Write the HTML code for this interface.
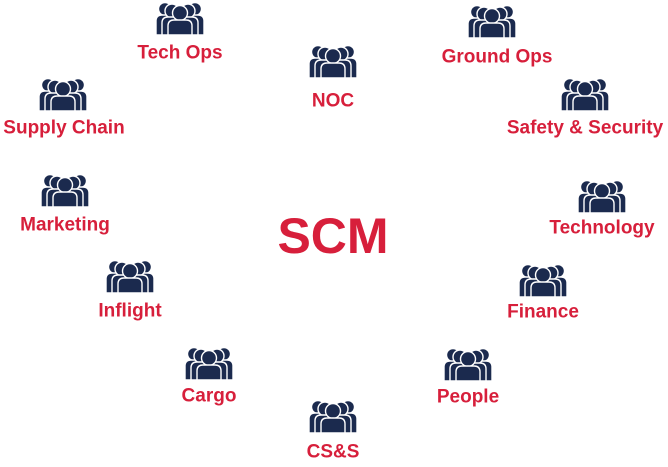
<!DOCTYPE html>
<html><head><meta charset="utf-8"><style>
html,body{margin:0;padding:0;background:#fff;}
#wrap{position:relative;width:668px;height:467px;overflow:hidden;font-family:"Liberation Sans",sans-serif;}
.lbl{position:absolute;color:#d71f3b;font-weight:bold;font-size:19px;white-space:nowrap;transform:translate(-50%,-50%);line-height:1;}
.ic{position:absolute;width:48px;height:34px;transform:translateX(-50%);}
#scm{position:absolute;left:333px;top:236px;transform:translate(-50%,-50%);color:#d71f3b;font-weight:bold;font-size:50px;line-height:1;}
</style></head><body>
<div id="wrap">
<div id="scm">SCM</div>
</div>
<script>
const names=["Tech Ops","NOC","Ground Ops","Supply Chain","Safety & Security","Marketing","Technology","Inflight","Finance","Cargo","People","CS&S"];
const iconX=[180,333,492,63,585,65,602,130,543,209,468,333];
const iconY=[1,44,4,77,77,173,179,259,263,346,347,399];
const lblX=[180,333,497,64,585,65,602,130,543,209,468,333];
const lblY=[53,101,57,128,128,225,228,311,312,396,397,452];
function person(cx,cy,r,bw,bt){
 return '<circle cx="'+cx+'" cy="'+cy+'" r="'+r+'"/>'+
 '<path d="M'+(cx-bw)+' 34 L'+(cx-bw)+' '+(bt+6)+' Q'+(cx-bw)+' '+bt+' '+(cx-bw+6)+' '+bt+' L'+(cx+bw-6)+' '+bt+' Q'+(cx+bw)+' '+bt+' '+(cx+bw)+' '+(bt+6)+' L'+(cx+bw)+' 34 Z"/>';
}
const svg='<svg viewBox="0 0 48 34" width="48" height="34"><g fill="#1b2a4e" stroke="#fff" stroke-width="1.4">'+
 person(9,8,6.5,9,14)+person(39,8,6.5,9,14)+
 person(16,10,7,10,16)+person(32,10,7,10,16)+
 person(24,12,7.5,12,19)+'</g></svg>';
const wrap=document.getElementById('wrap');
names.forEach((n,i)=>{
 const slug=n.toLowerCase().replace(/[^a-z]+/g,'-');
 const ic=document.createElement('div');ic.className='ic';
 ic.style.left=iconX[i]+'px';ic.style.top=iconY[i]+'px';ic.innerHTML=svg;
 
 
 wrap.appendChild(ic);
 const l=document.createElement('div');l.className='lbl';l.textContent=n;
 l.style.left=lblX[i]+'px';l.style.top=lblY[i]+'px';
 
 
 wrap.appendChild(l);
});
</script>
</body></html>
